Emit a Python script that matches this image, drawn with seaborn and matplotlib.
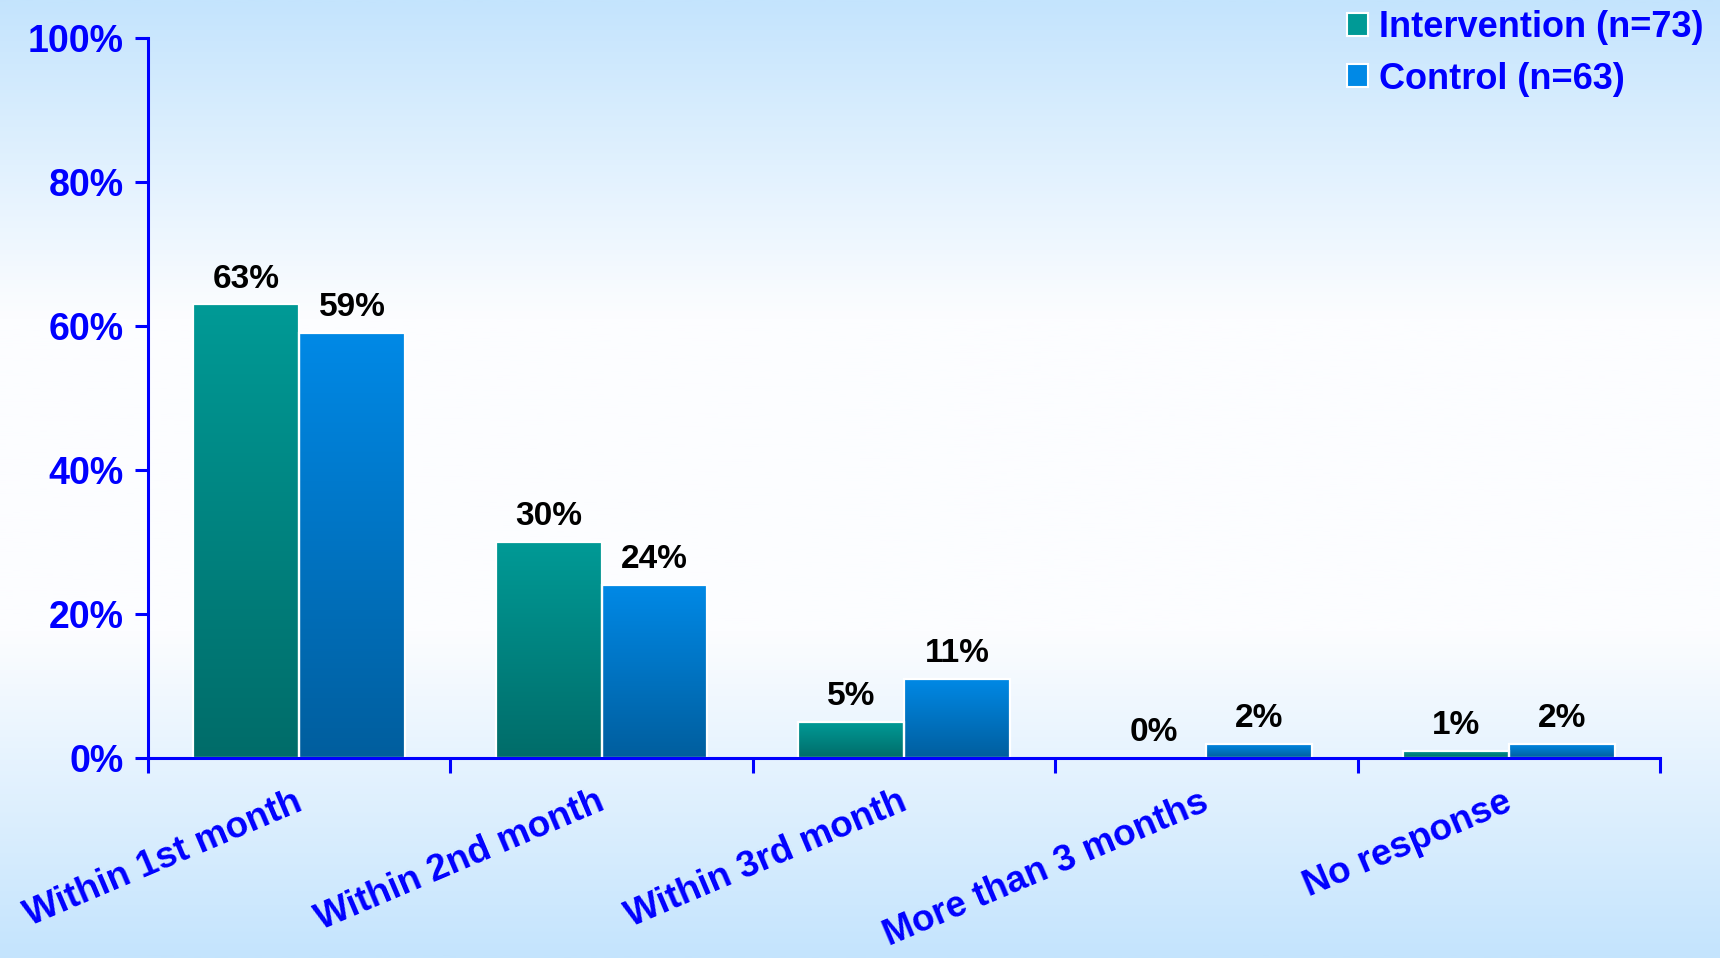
import numpy as np
import pandas as pd
import matplotlib
matplotlib.use("Agg")
import matplotlib.pyplot as plt
from matplotlib.colors import LinearSegmentedColormap
from matplotlib.patches import Patch
from matplotlib.transforms import ScaledTranslation
import seaborn as sns

# ---- data -------------------------------------------------------------
categories = ["Within 1st month", "Within 2nd month", "Within 3rd month",
              "More than 3 months", "No response"]
groups = ["Intervention (n=73)", "Control (n=63)"]
intervention = [63, 30, 5, 0, 1]
control = [59, 24, 11, 2, 2]
y_ticks = [0, 20, 40, 60, 80, 100]

df = pd.DataFrame({
    "period": categories * 2,
    "pct": intervention + control,
    "group": [groups[0]] * len(categories) + [groups[1]] * len(categories),
})

# ---- style ------------------------------------------------------------
sns.set_style("white")
plt.rcParams["font.family"] = ["Liberation Sans", "DejaVu Sans"]
plt.rcParams["font.weight"] = "bold"

BLUE = "#0000ff"
TEAL_TOP, TEAL_BOT = "#009a96", "#006c69"
CTRL_TOP, CTRL_BOT = "#0089e6", "#005e9e"

fig = plt.figure(figsize=(17.2, 9.58), dpi=100)

# page background: light blue at top and bottom, near white in the middle
bg = fig.add_axes([0, 0, 1, 1], zorder=-10)
bg_cmap = LinearSegmentedColormap.from_list(
    "page", [(0.0, "#c4e4fd"), (0.33, "#fcfdff"), (0.66, "#fcfdff"), (1.0, "#c4e4fd")])
bg.imshow(np.linspace(0, 1, 512).reshape(-1, 1), aspect="auto", cmap=bg_cmap,
          extent=[0, 1, 0, 1], origin="upper")
bg.set_axis_off()

ax = fig.add_axes([148 / 1720, 1 - 758 / 958, (1660 - 148) / 1720, (758 - 38) / 958])
ax.set_facecolor("none")

sns.barplot(data=df, x="period", y="pct", hue="group", order=categories,
            hue_order=groups, palette=[TEAL_TOP, CTRL_TOP], width=0.7,
            saturation=1, edgecolor="white", linewidth=1.6, legend=False, ax=ax)

# vertical shading inside each bar
cmaps = [LinearSegmentedColormap.from_list("teal", [TEAL_BOT, TEAL_TOP]),
         LinearSegmentedColormap.from_list("ctrl", [CTRL_BOT, CTRL_TOP])]
grad = np.linspace(0, 1, 256).reshape(-1, 1)
for cont, cmap in zip(ax.containers, cmaps):
    for bar in cont.patches:
        x, w, h = bar.get_x(), bar.get_width(), bar.get_height()
        if h <= 0:
            continue
        im = ax.imshow(grad, aspect="auto", cmap=cmap, origin="lower",
                       extent=[x, x + w, 0, h], zorder=bar.get_zorder() - 0.05)
        im.set_clip_path(bar)
        bar.set_facecolor("none")
        bar.set_zorder(bar.get_zorder() + 0.1)

# value labels
for cont, vals in zip(ax.containers, [intervention, control]):
    ax.bar_label(cont, labels=[f"{v}%" for v in vals], padding=7,
                 fontsize=24, fontweight="bold", color="black")

ax.set_xlim(-0.5, len(categories) - 0.5)
ax.set_ylim(0, 100)

# y axis
ax.set_yticks(y_ticks)
ax.set_yticklabels([f"{t}%" for t in y_ticks])
ax.tick_params(axis="y", left=True, colors=BLUE, labelcolor=BLUE, labelsize=27,
               length=9.5, width=2.2, pad=8, direction="out")
for lbl in ax.get_yticklabels():
    lbl.set_fontweight("bold")

# x axis: marks at group boundaries, names under group centres
ax.set_xticks(np.arange(len(categories)))
ax.set_xticklabels(categories, rotation=23, ha="right", rotation_mode="anchor",
                   fontsize=26.5, fontweight="bold", color=BLUE)
ax.set_xticks(np.arange(-0.5, len(categories)), minor=True)
ax.tick_params(axis="x", which="major", bottom=True, length=0, pad=19)
ax.tick_params(axis="x", which="minor", bottom=True, colors=BLUE, length=11,
               width=2.2, direction="out")
shift = ScaledTranslation(-6 / 100, 0, fig.dpi_scale_trans)
for lbl in ax.get_xticklabels():
    lbl.set_transform(lbl.get_transform() + shift)

ax.set_xlabel("")
ax.set_ylabel("")
for side in ["top", "right"]:
    ax.spines[side].set_visible(False)
for side in ["left", "bottom"]:
    ax.spines[side].set_color(BLUE)
    ax.spines[side].set_linewidth(2.2)
    ax.spines[side].set_zorder(5)

# legend
handles = [Patch(facecolor=TEAL_TOP, edgecolor="white", linewidth=1.5),
           Patch(facecolor=CTRL_TOP, edgecolor="white", linewidth=1.5)]
leg = fig.legend(handles, groups, loc="upper right",
                 bbox_to_anchor=(1718 / 1720, 1 + 4 / 958), frameon=False,
                 prop={"size": 26, "weight": "bold"}, handlelength=0.6,
                 handleheight=0.6, handletextpad=0.3, labelspacing=0.45,
                 borderaxespad=0)
for t in leg.get_texts():
    t.set_color(BLUE)

fig.savefig("out.png", dpi=100)
